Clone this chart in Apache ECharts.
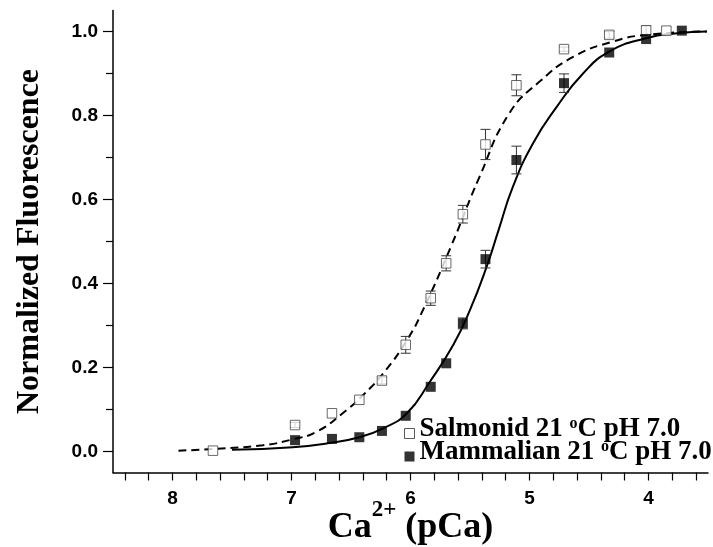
<!DOCTYPE html>
<html><head><meta charset="utf-8">
<script src="https://cdn.jsdelivr.net/npm/echarts@6/dist/echarts.min.js"></script>
<style>html,body{margin:0;padding:0;background:#fff}#c{width:713px;height:547px}</style>
</head><body><div id="c"></div>
<script>
// ---- data ----
const salmonidX   = [7.66, 6.97, 6.66, 6.43, 6.24, 6.04, 5.83, 5.70, 5.56, 5.37, 5.11, 4.71, 4.33, 4.02, 3.85];
const salmonidY   = [0.002, 0.063, 0.091, 0.123, 0.169, 0.254, 0.365, 0.448, 0.565, 0.731, 0.872, 0.958, 0.992, 1.003, 1.002];
const salmonidErr = [0, 0.006, 0, 0, 0.008, 0.02, 0.017, 0.018, 0.021, 0.036, 0.025, 0.005, 0.008, 0.01, 0];

const mammalX   = [6.97, 6.66, 6.43, 6.24, 6.04, 5.83, 5.70, 5.56, 5.37, 5.11, 4.71, 4.33, 4.02, 3.72];
const mammalY   = [0.027, 0.030, 0.034, 0.049, 0.085, 0.154, 0.210, 0.305, 0.458, 0.694, 0.877, 0.950, 0.982, 1.002];
const mammalErr = [0, 0, 0, 0, 0, 0, 0, 0.013, 0.021, 0.033, 0.022, 0, 0, 0];

const salmonidFitX = [7.95, 7.66, 7.24, 6.99, 6.79, 6.57, 6.40, 6.23, 6.03, 5.89, 5.66, 5.42, 5.17, 4.91, 4.63, 4.30, 4.02, 3.51];
const salmonidFitY = [0.002, 0.006, 0.015, 0.029, 0.047, 0.091, 0.134, 0.186, 0.265, 0.340, 0.488, 0.654, 0.805, 0.882, 0.940, 0.976, 0.992, 1.000];

const mammalFitX = [7.50, 6.99, 6.68, 6.43, 6.23, 6.03, 5.84, 5.64, 5.50, 5.36, 5.26, 5.14, 4.97, 4.77, 4.55, 4.33, 4.02, 3.76, 3.51];
const mammalFitY = [0.004, 0.010, 0.020, 0.034, 0.055, 0.091, 0.165, 0.254, 0.337, 0.440, 0.527, 0.630, 0.734, 0.821, 0.900, 0.952, 0.984, 0.996, 1.000];

const xTickLabels = [8, 7, 6, 5, 4];
const xTicks = [8.4, 8.2, 8.0, 7.8, 7.6, 7.4, 7.2, 7.0, 6.8, 6.6, 6.4, 6.2, 6.0, 5.8, 5.6, 5.4, 5.2, 5.0, 4.8, 4.6, 4.4, 4.2, 4.0, 3.8, 3.6];
const yTickLabels = [0.0, 0.2, 0.4, 0.6, 0.8, 1.0];
const yMinorTicks = [0.1, 0.3, 0.5, 0.7, 0.9];

const legendNames = ['Salmonid', 'Mammalian'];
const legendText = {
  'Salmonid': '{t|Salmonid 21 }{s|o}{t|C pH 7.0}',
  'Mammalian': '{t|Mammalian 21 }{s|o}{t|C pH 7.0}'
};

const serif = 'Liberation Serif, Times New Roman, serif';
const sans = 'Liberation Sans, Arial, sans-serif';

function errRender(params, api) {
  const x = api.value(0), y = api.value(1), e = api.value(2);
  if (!e) return { type: 'group', children: [] };
  const top = api.coord([x, y + e]);
  const bot = api.coord([x, y - e]);
  const hw = 5;
  const st = { stroke: '#333', lineWidth: 1 };
  return {
    type: 'group',
    children: [
      { type: 'line', shape: { x1: top[0], y1: top[1], x2: bot[0], y2: bot[1] }, style: st },
      { type: 'line', shape: { x1: top[0] - hw, y1: top[1], x2: top[0] + hw, y2: top[1] }, style: st },
      { type: 'line', shape: { x1: bot[0] - hw, y1: bot[1], x2: bot[0] + hw, y2: bot[1] }, style: st }
    ]
  };
}

const chart = echarts.init(document.getElementById('c'), null, { renderer: 'canvas' });
chart.setOption({
  animation: false,
  backgroundColor: '#fff',
  grid: { left: 113, right: 5, top: 10.5, bottom: 74.5, containLabel: false, outerBoundsMode: 'none' },
  legend: {
    data: [
      { name: 'Salmonid', itemStyle: { color: '#fff', borderColor: '#333', borderWidth: 1 } },
      { name: 'Mammalian', itemStyle: { color: '#000', borderWidth: 0 } }
    ],
    orient: 'vertical',
    left: 404,
    top: 416,
    padding: 0,
    itemGap: -4,
    itemWidth: 10,
    itemHeight: 10,
    icon: 'rect',
    selectedMode: false,
    formatter: name => legendText[name],
    textStyle: {
      fontFamily: serif, fontWeight: 'bold', fontSize: 27, color: '#000',
      padding: [0, 0, 8, 0],
      rich: {
        t: { fontFamily: serif, fontWeight: 'bold', fontSize: 27, color: '#000', lineHeight: 27 },
        s: { fontFamily: serif, fontWeight: 'bold', fontSize: 16, color: '#000', lineHeight: 16, padding: [0, 0, 11, 0] }
      }
    }
  },
  xAxis: {
    type: 'value', min: 3.5, max: 8.5, inverse: true,
    name: 'Ca{s|2+} (pCa)', nameLocation: 'middle', nameGap: 37, nameMoveOverlap: false,
    nameTextStyle: {
      fontFamily: serif, fontWeight: 'bold', fontSize: 36, color: '#000',
      rich: {
        s: { fontFamily: serif, fontWeight: 'bold', fontSize: 23, color: '#000', lineHeight: 23, padding: [0, 0, 34, 0] }
      }
    },
    axisLine: { show: true, onZero: false, lineStyle: { color: '#000', width: 1.5 } },
    axisTick: { show: true, customValues: xTicks, length: 8, lineStyle: { color: '#000', width: 1.2 } },
    axisLabel: { customValues: xTickLabels, margin: 17, fontFamily: sans, fontWeight: 'bold', fontSize: 19, color: '#000' },
    splitLine: { show: false }
  },
  yAxis: [{
    type: 'value', min: -0.05, max: 1.05,
    name: 'Normalized Fluorescence', nameLocation: 'middle', nameRotate: 90, nameGap: 67, nameMoveOverlap: false,
    nameTextStyle: { fontFamily: serif, fontWeight: 'bold', fontSize: 32, color: '#000' },
    axisLine: { show: true, onZero: false, lineStyle: { color: '#000', width: 1.5 } },
    axisTick: { show: true, customValues: yTickLabels, length: 10, lineStyle: { color: '#000', width: 1.2 } },
    axisLabel: { customValues: yTickLabels, margin: 15, formatter: v => v.toFixed(1), fontFamily: sans, fontWeight: 'bold', fontSize: 19, color: '#000' },
    splitLine: { show: false }
  }, {
    type: 'value', min: -0.05, max: 1.05, position: 'left',
    axisLine: { show: false },
    axisTick: { show: true, customValues: yMinorTicks, length: 7, lineStyle: { color: '#000', width: 1.2 } },
    axisLabel: { show: false },
    splitLine: { show: false }
  }],
  series: [
    {
      name: 'Salmonid fit', type: 'line', smooth: true, symbol: 'none', z: 2,
      lineStyle: { color: '#000', width: 2, type: [8, 5] },
      data: salmonidFitX.map((x, i) => [x, salmonidFitY[i]])
    },
    {
      name: 'Mammalian fit', type: 'line', smooth: true, symbol: 'none', z: 2,
      lineStyle: { color: '#000', width: 2 },
      data: mammalFitX.map((x, i) => [x, mammalFitY[i]])
    },
    {
      name: 'Salmonid err', type: 'custom', renderItem: errRender, z: 3, silent: true,
      encode: { x: 0, y: 1 },
      data: salmonidX.map((x, i) => [x, salmonidY[i], salmonidErr[i]])
    },
    {
      name: 'Mammalian err', type: 'custom', renderItem: errRender, z: 3, silent: true,
      encode: { x: 0, y: 1 },
      data: mammalX.map((x, i) => [x, mammalY[i], mammalErr[i]])
    },
    {
      name: legendNames[0], type: 'scatter', symbol: 'rect', symbolSize: 9.5, z: 4,
      itemStyle: { color: '#fff', borderColor: '#444', borderWidth: 1 },
      data: salmonidX.map((x, i) => [x, salmonidY[i]])
    },
    {
      name: legendNames[1], type: 'scatter', symbol: 'rect', symbolSize: 10, z: 4,
      itemStyle: { color: '#000' },
      data: mammalX.map((x, i) => [x, mammalY[i]])
    }
  ]
});
</script>
</body></html>
